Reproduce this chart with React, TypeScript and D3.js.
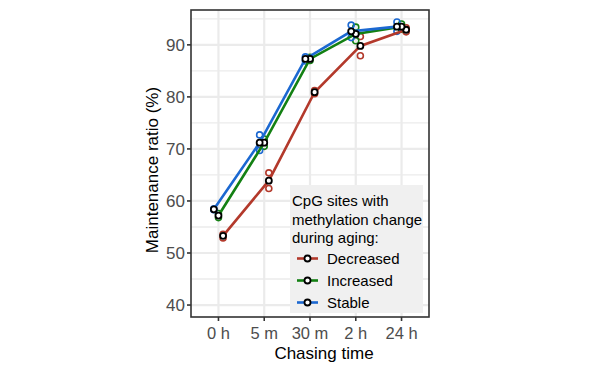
import React from 'react';
import * as d3 from 'd3';

// chasing time points
const categories = ['0 h', '5 m', '30 m', '2 h', '24 h'];
const groups = ['Decreased', 'Increased', 'Stable'];
const groupColors = ['#b3392b', '#138013', '#1b68d1'];

// mean maintenance ratio (%) per group
const meanDecreased = [53.3, 63.9, 80.9, 89.8, 92.9];
const meanIncreased = [57.2, 71.2, 87.3, 92.1, 93.5];
const meanStable = [58.4, 71.2, 87.3, 92.6, 93.5];

// replicates (open coloured circles)
const repDecreased = [[52.9, 65.4, 81.2, 91.6, 93.3], [53.6, 62.4, 80.6, 87.9, 92.5]];
const repIncreased = [[56.8, 70.5, 87.6, 93.4, 94.0], [57.6, 71.9, 87.0, 90.8, 93.0]];
const repStable = [[58.3, 72.7, 87.7, 93.8, 94.4], [58.5, 69.7, 86.9, 91.4, 92.6]];

const yMajor = [40, 50, 60, 70, 80, 90];
const yMinor = [45, 55, 65, 75, 85, 95];

const legendTitle = ['CpG sites with', 'methylation change', 'during aging:'];

const W = 599, H = 374;
const left = 191, right = 429, top = 10, bottom = 317;
const font = '"Liberation Sans", Arial, sans-serif';

export default function App() {
  const x = d3.scalePoint<string>().domain(categories).range([left, right]).padding(0.6);
  const y = d3.scaleLinear().domain([37.7, 96.7]).range([bottom, top]);
  // dodge order as in the picture: Stable left, Decreased right
  const dodge = d3.scalePoint<string>().domain(['Stable', 'Increased', 'Decreased']).range([-4.6, 4.6]);

  const means = [meanDecreased, meanIncreased, meanStable];
  const reps = [repDecreased, repIncreased, repStable];

  const line = (g: string) => d3.line<number>()
    .x((_, i) => (x(categories[i]) as number) + (dodge(g) as number))
    .y(d => y(d));

  return (
    <svg width={W} height={H} style={{position: 'absolute', left: 0, top: 0}} fontFamily={font}>
      <rect x={0} y={0} width={W} height={H} fill="#fff" />
      {/* grid */}
      {yMinor.filter(v => y(v) > top).map(v => (
        <line key={'mi' + v} x1={left} x2={right} y1={y(v)} y2={y(v)} stroke="#ebebeb" strokeWidth={1.3} />
      ))}
      {yMajor.map(v => (
        <line key={'ma' + v} x1={left} x2={right} y1={y(v)} y2={y(v)} stroke="#ebebeb" strokeWidth={2.2} />
      ))}
      {categories.map(c => (
        <line key={'vx' + c} x1={x(c)} x2={x(c)} y1={top} y2={bottom} stroke="#ebebeb" strokeWidth={2.2} />
      ))}

      {/* replicates */}
      {groups.map((g, gi) => reps[gi].map((r, ri) => r.map((v, i) => (
        <circle key={g + ri + i} cx={(x(categories[i]) as number) + (dodge(g) as number)} cy={y(v)} r={3}
          fill="none" stroke={groupColors[gi]} strokeWidth={1.6} />
      ))))}

      {/* mean lines */}
      {groups.map((g, gi) => (
        <path key={'l' + g} d={line(g)(means[gi]) as string} fill="none" stroke={groupColors[gi]} strokeWidth={2.6} />
      ))}
      {groups.map((g, gi) => means[gi].map((v, i) => (
        <circle key={'m' + g + i} cx={(x(categories[i]) as number) + (dodge(g) as number)} cy={y(v)} r={3}
          fill="#fff" stroke="#000" strokeWidth={1.8} />
      )))}

      {/* legend */}
      <rect x={290} y={185} width={133} height={128} fill="#f0f0f0" />
      {legendTitle.map((t, i) => (
        <text key={t} x={292} y={206 + i * 18.5} fontSize={15} fill="#000">{t}</text>
      ))}
      {groups.map((g, gi) => {
        const ly = 258.5 + gi * 22;
        return (
          <g key={'lg' + g}>
            <line x1={297} x2={318} y1={ly} y2={ly} stroke={groupColors[gi]} strokeWidth={2.6} />
            <circle cx={307.5} cy={ly} r={3} fill="#fff" stroke="#000" strokeWidth={1.8} />
            <text x={327} y={ly + 5.3} fontSize={15} fill="#000">{g}</text>
          </g>
        );
      })}

      {/* panel border */}
      <rect x={left} y={top} width={right - left} height={bottom - top} fill="none" stroke="#333" strokeWidth={1.6} />

      {/* y axis */}
      {yMajor.map(v => (
        <g key={'yt' + v}>
          <line x1={left - 4} x2={left} y1={y(v)} y2={y(v)} stroke="#333" strokeWidth={1.6} />
          <text x={left - 6} y={y(v) + 6} fontSize={17} fill="#4d4d4d" textAnchor="end">{v}</text>
        </g>
      ))}
      {/* x axis */}
      {categories.map(c => (
        <g key={'xt' + c}>
          <line x1={x(c)} x2={x(c)} y1={bottom} y2={bottom + 4} stroke="#333" strokeWidth={1.6} />
          <text x={x(c)} y={338.5} fontSize={16.5} fill="#4d4d4d" textAnchor="middle">{c}</text>
        </g>
      ))}

      <text x={324} y={359} fontSize={17} fill="#000" textAnchor="middle">Chasing time</text>
      <text transform="translate(158,170) rotate(-90)" fontSize={17} fill="#000" textAnchor="middle">Maintenance ratio (%)</text>
    </svg>
  );
}
